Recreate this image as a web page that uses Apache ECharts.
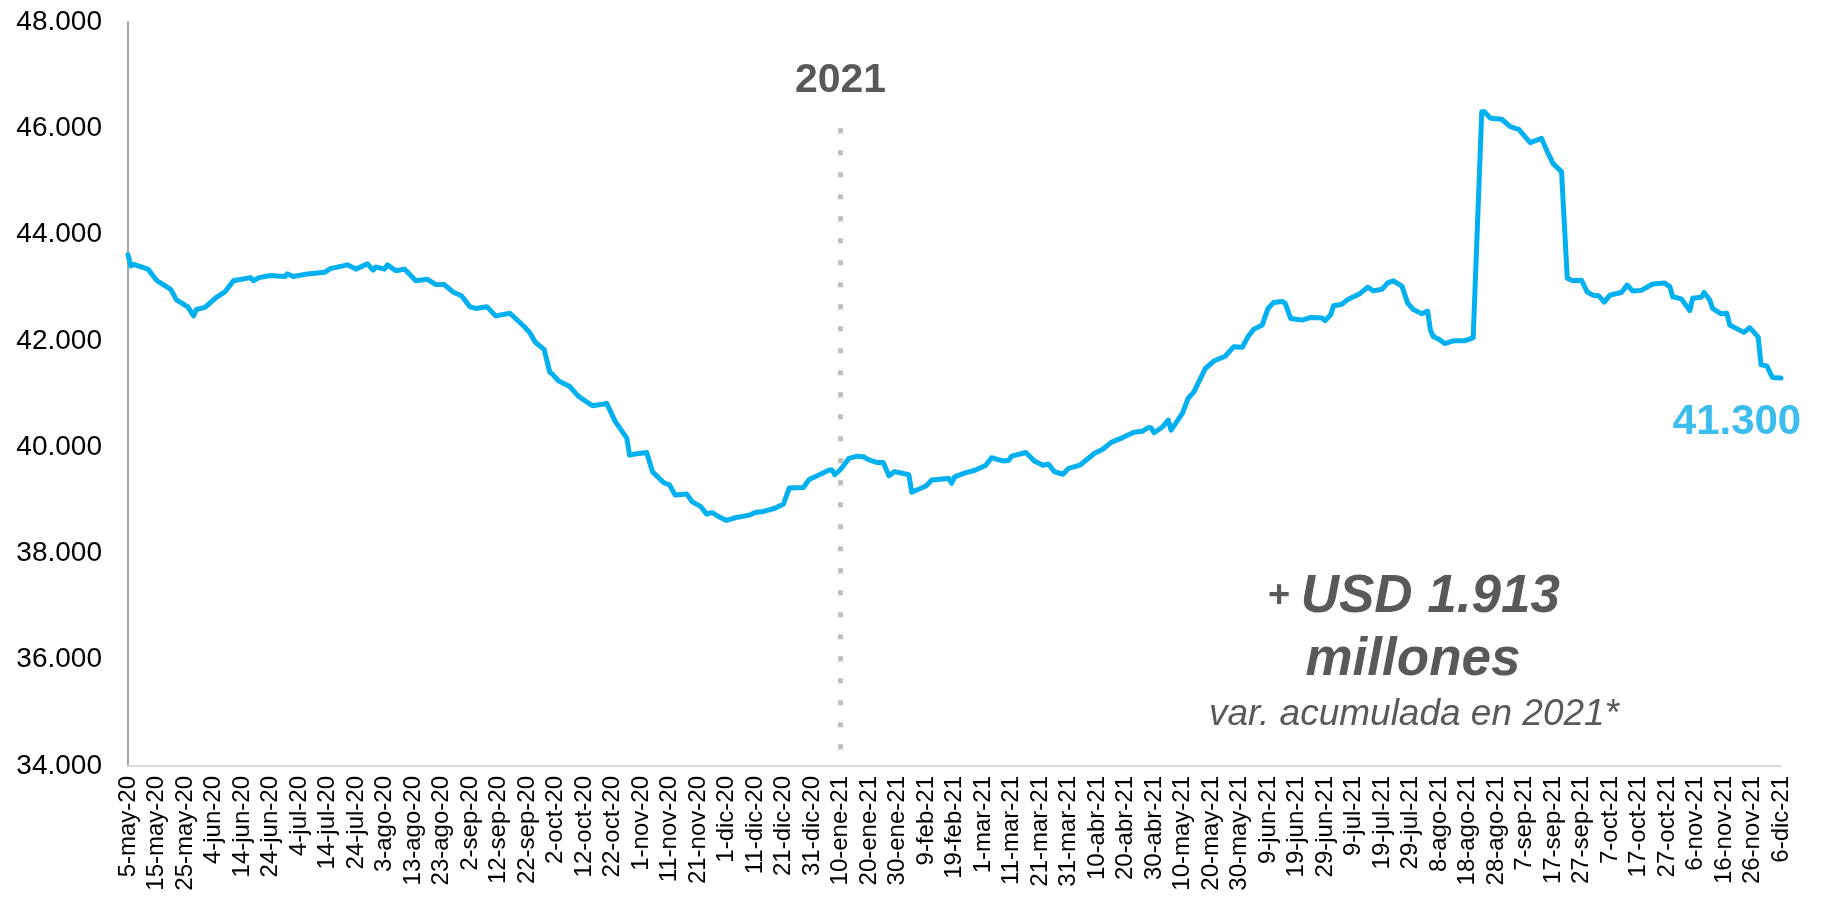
<!DOCTYPE html>
<html>
<head>
<meta charset="utf-8">
<script src="https://cdn.jsdelivr.net/npm/echarts@6/dist/echarts.min.js"></script>
<style>
html, body { margin: 0; padding: 0; background: #fff; }
#chart { width: 1824px; height: 915px; }
</style>
</head>
<body>
<div id="chart"></div>
<script>
// categorias: un dia por categoria, del 5-may-20 al 6-dic-21
const months = ['ene', 'feb', 'mar', 'abr', 'may', 'jun', 'jul', 'ago', 'sep', 'oct', 'nov', 'dic'];
const dayCount = 581;
const categories = [];
for (let i = 0; i < dayCount; i++) {
  const d = new Date(Date.UTC(2020, 4, 5 + i));
  categories.push(d.getUTCDate() + '-' + months[d.getUTCMonth()] + '-' + String(d.getUTCFullYear()).slice(2));
}

// puntos (dia desde 5-may-20, valor)
const keyDays = [
  0, 1, 2, 7, 10, 15, 17, 21, 23, 24, 27, 31, 34, 37, 43, 44, 46, 50, 55, 56,
  58, 63, 69, 71, 77, 80, 84, 86, 87, 90, 91, 94, 97, 101, 105, 108, 111, 114, 117, 120,
  122, 126, 129, 134, 139, 141, 143, 146, 148, 149, 151, 155, 158, 161, 163, 168, 171, 175, 176, 178,
  182, 184, 188, 190, 192, 196, 198, 201, 203, 205, 207, 210, 213, 218, 220, 223, 227, 230, 232, 237,
  239, 243, 246, 247, 248, 250, 253, 256, 258, 260, 263, 265, 267, 269, 274, 275, 280, 282, 288, 289,
  290, 294, 297, 301, 303, 307, 309, 310, 315, 318, 321, 323, 325, 328, 330, 334, 339, 342, 345, 349,
  353, 356, 358, 359, 360, 363, 365, 366, 370, 372, 374, 378, 381, 385, 388, 391, 393, 395, 398, 400,
  402, 405, 406, 408, 412, 415, 419, 420, 422, 423, 426, 428, 432, 435, 437, 440, 442, 444, 447, 449,
  451, 454, 456, 457, 458, 460, 462, 465, 469, 472, 475, 476, 478, 482, 485, 488, 492, 496, 498, 500,
  503, 505, 507, 510, 512, 514, 516, 518, 520, 524, 526, 528, 531, 535, 539, 541, 542, 545, 548, 549,
  552, 553, 555, 556, 559, 561, 562, 567, 569, 572, 573, 575, 577, 580
];
const keyValues = [
  43620, 43410, 43440, 43350, 43140, 42970, 42770, 42640, 42470, 42590, 42630, 42820, 42920, 43130, 43190, 43130, 43190, 43230, 43210, 43260,
  43210, 43260, 43290, 43360, 43430, 43350, 43450, 43330, 43390, 43350, 43430, 43320, 43350, 43130, 43160, 43060, 43060, 42920, 42850, 42640,
  42610, 42640, 42470, 42520, 42270, 42150, 41970, 41840, 41410, 41370, 41250, 41140, 40960, 40850, 40780, 40820, 40480, 40170, 39850, 39870,
  39900, 39540, 39330, 39290, 39100, 39120, 38970, 38880, 38740, 38770, 38700, 38620, 38670, 38720, 38770, 38790, 38850, 38930, 39230, 39240,
  39390, 39490, 39570, 39570, 39480, 39580, 39790, 39830, 39820, 39760, 39710, 39710, 39460, 39540, 39480, 39150, 39270, 39380, 39410, 39320,
  39440, 39520, 39560, 39660, 39800, 39740, 39750, 39830, 39900, 39740, 39660, 39680, 39540, 39490, 39600, 39660, 39880, 39960, 40090, 40180,
  40280, 40300, 40370, 40360, 40270, 40380, 40510, 40320, 40640, 40920, 41040, 41480, 41620, 41710, 41890, 41880, 42080, 42220, 42300, 42610,
  42720, 42740, 42710, 42420, 42390, 42440, 42430, 42380, 42490, 42660, 42690, 42780, 42880, 43010, 42940, 42970, 43090, 43130, 43030, 42710,
  42590, 42510, 42560, 42200, 42080, 42030, 41950, 42000, 42000, 42060, 46310, 46310, 46190, 46170, 46030, 45980, 45730, 45810, 45560, 45340,
  45180, 43180, 43130, 43140, 42920, 42860, 42850, 42730, 42860, 42910, 43050, 42940, 42950, 43070, 43090, 43020, 42830, 42790, 42570, 42800,
  42820, 42910, 42770, 42610, 42510, 42520, 42300, 42160, 42250, 42070, 41550, 41530, 41310, 41300
];

const yearMark = '10-ene-21';
const yearMarkTop = 46000;
const yMin = 34000, yMax = 48000, yStep = 2000;

const fontFamily = "'Liberation Sans', Arial, sans-serif";
const lineColor = '#00B0F0';
const textGray = '#595959';

const lastDay = keyDays[keyDays.length - 1];
const lastValue = keyValues[keyValues.length - 1];

const chart = echarts.init(document.getElementById('chart'));
chart.setOption({
  animation: false,
  grid: { left: 128, right: 43, top: 22, bottom: 149, containLabel: false },
  xAxis: {
    type: 'category',
    boundaryGap: false,
    data: categories,
    axisTick: { show: false },
    axisLine: { lineStyle: { color: '#D9D9D9', width: 2 } },
    axisLabel: {
      interval: 9,
      rotate: 90,
      margin: 10,
      color: '#000',
      fontFamily: fontFamily,
      fontSize: 24
    },
    splitLine: { show: false }
  },
  yAxis: {
    type: 'value',
    min: yMin,
    max: yMax,
    interval: yStep,
    axisLine: { show: true, lineStyle: { color: '#A6A6A6', width: 2 } },
    axisTick: { show: false },
    splitLine: { show: false },
    axisLabel: {
      margin: 26,
      color: '#000',
      fontFamily: fontFamily,
      fontSize: 28,
      formatter: v => (v / 1000).toFixed(3)
    }
  },
  series: [{
    type: 'line',
    data: keyDays.map((d, i) => [d, keyValues[i]]),
    symbol: 'none',
    lineStyle: { color: lineColor, width: 5, join: 'round', cap: 'round' },
    markLine: {
      silent: true,
      symbol: ['none', 'none'],
      lineStyle: { color: '#BFBFBF', width: 5, type: [5, 17], cap: 'butt' },
      label: {
        show: true,
        position: 'start',
        distance: 27,
        formatter: '2021',
        fontFamily: fontFamily,
        fontSize: 41,
        fontWeight: 'bold',
        color: textGray
      },
      data: [[{ coord: [yearMark, yearMarkTop] }, { coord: [yearMark, yMin] }]]
    },
    markPoint: {
      silent: true,
      symbol: 'circle',
      symbolSize: 0,
      label: {
        show: true,
        position: 'inside',
        offset: [-44, 44],
        formatter: p => (p.value / 1000).toFixed(3),
        fontFamily: fontFamily,
        fontSize: 42,
        fontWeight: 'bold',
        color: '#3BBDEE'
      },
      data: [{ coord: [lastDay, lastValue], value: lastValue }]
    }
  }],
  graphic: [
    {
      type: 'text',
      x: 1414, y: 597,
      style: {
        text: '{p|+ }{b|USD 1.913}',
        align: 'center',
        verticalAlign: 'middle',
        rich: {
          p: { fontFamily: fontFamily, fontSize: 38, fontWeight: 'bold', fill: textGray },
          b: { fontFamily: fontFamily, fontSize: 53, fontWeight: 'bold', fontStyle: 'italic', fill: textGray }
        }
      }
    },
    {
      type: 'text',
      x: 1413, y: 660,
      style: {
        text: 'millones',
        align: 'center',
        verticalAlign: 'middle',
        fontFamily: fontFamily, fontSize: 53, fontWeight: 'bold', fontStyle: 'italic', fill: textGray
      }
    },
    {
      type: 'text',
      x: 1414, y: 715,
      style: {
        text: 'var. acumulada en 2021*',
        align: 'center',
        verticalAlign: 'middle',
        fontFamily: fontFamily, fontSize: 37, fontStyle: 'italic', fill: textGray
      }
    }
  ]
});
</script>
</body>
</html>
